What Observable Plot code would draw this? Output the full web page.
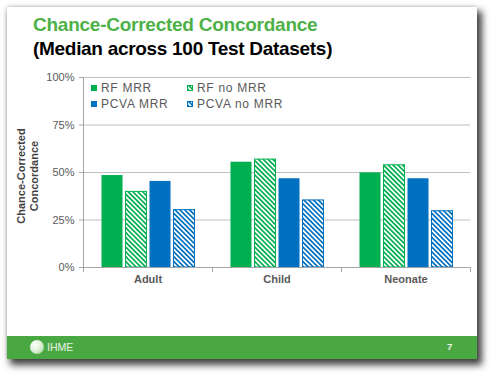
<!DOCTYPE html>
<html>
<head>
<meta charset="utf-8">
<script src="https://cdn.jsdelivr.net/npm/d3@7"></script>
<script src="https://cdn.jsdelivr.net/npm/@observablehq/plot@0.6"></script>
<style>
  html, body { margin: 0; padding: 0; background: #fff; }
  body { width: 500px; height: 382px; position: relative; overflow: hidden; font-family: "Liberation Sans", Arial, sans-serif; }
  #slide { position: absolute; left: 7px; top: 7px; width: 470px; height: 352px; background: #fff;
    box-shadow: 4px 5px 7px 1px rgba(0,0,0,0.75), -1px -1px 3px rgba(0,0,0,0.15); }
  #title1 { position: absolute; left: 33px; top: 14px; font-weight: bold; font-size: 19px; color: #4DB148; letter-spacing: -0.25px; white-space: nowrap; }
  #title2 { position: absolute; left: 33px; top: 38px; font-weight: bold; font-size: 19px; color: #000; letter-spacing: -0.3px; white-space: nowrap; }
  #chart { position: absolute; left: 0; top: 60px; }
  #ylabel { position: absolute; left: 28px; top: 176px; transform: translate(-50%, -50%) rotate(-90deg); font-weight: bold; font-size: 11px; color: #404040; text-align: center; line-height: 13px; white-space: nowrap; }
  #legend { position: absolute; left: 91px; top: 81px; font-size: 12px; letter-spacing: 0.7px; color: #595959; }
  .li { position: absolute; white-space: nowrap; display: flex; align-items: center; height: 14px; }
  .li svg { margin-right: 4px; }
  #footer { position: absolute; left: 7px; top: 336px; width: 470px; height: 23px; background: #4AA843; }
  #ihme { position: absolute; left: 47px; top: 341px; color: #e8f4e6; font-size: 10.5px; }
  #logo { position: absolute; left: 30px; top: 340px; width: 14px; height: 14px; border-radius: 50%;
    background: radial-gradient(circle at 35% 35%, #ffffff 0%, #e0f0da 45%, #8fcf86 100%); }
  #page { position: absolute; left: 447px; top: 341px; color: #f0f8ee; font-size: 9.5px; font-weight: bold; }
</style>
</head>
<body>
<svg width="0" height="0" style="position:absolute">
  <defs>
    <pattern id="hatchG" patternUnits="userSpaceOnUse" width="3.4" height="3.4" patternTransform="rotate(-45)">
      <rect width="3.4" height="3.4" fill="#fff"/>
      <rect width="1.7" height="3.4" fill="#00B050"/>
    </pattern>
    <pattern id="hatchB" patternUnits="userSpaceOnUse" width="3.4" height="3.4" patternTransform="rotate(-45)">
      <rect width="3.4" height="3.4" fill="#fff"/>
      <rect width="1.7" height="3.4" fill="#0070C0"/>
    </pattern>
  </defs>
</svg>
<div id="slide"></div>
<div id="title1">Chance-Corrected Concordance</div>
<div id="title2">(Median across 100 Test Datasets)</div>
<div id="chart"></div>
<div id="ylabel">Chance-Corrected<br>Concordance</div>
<div id="legend"></div>
<div id="footer"></div>
<div id="logo"></div>
<div id="ihme">IHME</div>
<div id="page">7</div>
<script>
// ---- data ----
const categories = ["Adult", "Child", "Neonate"];
const series = ["RF MRR", "RF no MRR", "PCVA MRR", "PCVA no MRR"];
const rfMRR     = [48.4, 55.4, 49.8];
const rfNoMRR   = [39.8, 56.8, 53.8];
const pcvaMRR   = [45.3, 46.7, 46.7];
const pcvaNoMRR = [30.2, 35.3, 29.6];
const yTicks = [0, 25, 50, 75, 100];
const seriesColors = ["#00B050", "#00B050", "#0070C0", "#0070C0"];
const seriesFills  = ["#00B050", "url(#hatchG)", "#0070C0", "url(#hatchB)"];

const valuesBySeries = [rfMRR, rfNoMRR, pcvaMRR, pcvaNoMRR];
const data = categories.flatMap((c, i) =>
  series.map((s, j) => ({category: c, series: s, idx: j, value: valuesBySeries[j][i]})));

const W = 500, H = 240, mT = 17, mB = 33, mL = 83, mR = 30;
const innerH = H - mT - mB;

const chart = Plot.plot({
  width: W, height: H,
  marginTop: mT, marginBottom: mB, marginLeft: mL, marginRight: mR,
  style: {fontFamily: "'Liberation Sans', Arial, sans-serif", fontSize: "11px", color: "#595959", background: "transparent"},
  fx: {domain: categories, padding: 0, label: null, axis: null},
  x: {domain: series, paddingInner: 0.1, paddingOuter: 0.67, axis: null},
  y: {domain: [0, 100], label: null, axis: null},
  color: {type: "identity"},
  marks: [
    Plot.ruleY(yTicks.filter(d => d > 0), {stroke: "#BFBFBF", strokeWidth: 1}),
    Plot.barY(data, {
      fx: "category", x: "series", y: "value",
      fill: d => seriesFills[d.idx],
      stroke: d => seriesColors[d.idx],
      strokeWidth: d => (d.idx % 2 ? 1 : 0.01),
      insetLeft: 0.5, insetRight: 0.5
    }),
    Plot.ruleY([0], {stroke: "#A6A6A6", strokeWidth: 1}),
    Plot.frame({anchor: "left", stroke: "#A6A6A6", facetAnchor: "left"}),
    Plot.frame({anchor: "left", stroke: "#A6A6A6", insetTop: innerH, insetBottom: -4}),
    Plot.frame({anchor: "right", stroke: "#A6A6A6", insetTop: innerH, insetBottom: -4, facetAnchor: "right"}),
    Plot.axisY(yTicks, {tickSize: 4, tickPadding: 5, tickFormat: d => d + "%", stroke: "#A6A6A6", color: "#595959", fontSize: 11, label: null}),
    Plot.axisFx({anchor: "bottom", tickSize: 0, tickPadding: 8, fontWeight: "bold", fontSize: 11, color: "#595959", label: null})
  ]
});
document.getElementById("chart").appendChild(chart);

// ---- legend ----
const legend = document.getElementById("legend");
series.forEach((s, j) => {
  const col = j % 2, row = Math.floor(j / 2);
  const el = document.createElement("div");
  el.className = "li";
  el.style.left = (col * 96) + "px";
  el.style.top = (row * 16) + "px";
  const fill = seriesFills[j];
  el.innerHTML = `<svg width="6" height="6"><rect x="0.5" y="0.5" width="5" height="5" fill="${fill}" stroke="${seriesColors[j]}" stroke-width="1"/></svg><span>${s}</span>`;
  legend.appendChild(el);
});
</script>
</body>
</html>
